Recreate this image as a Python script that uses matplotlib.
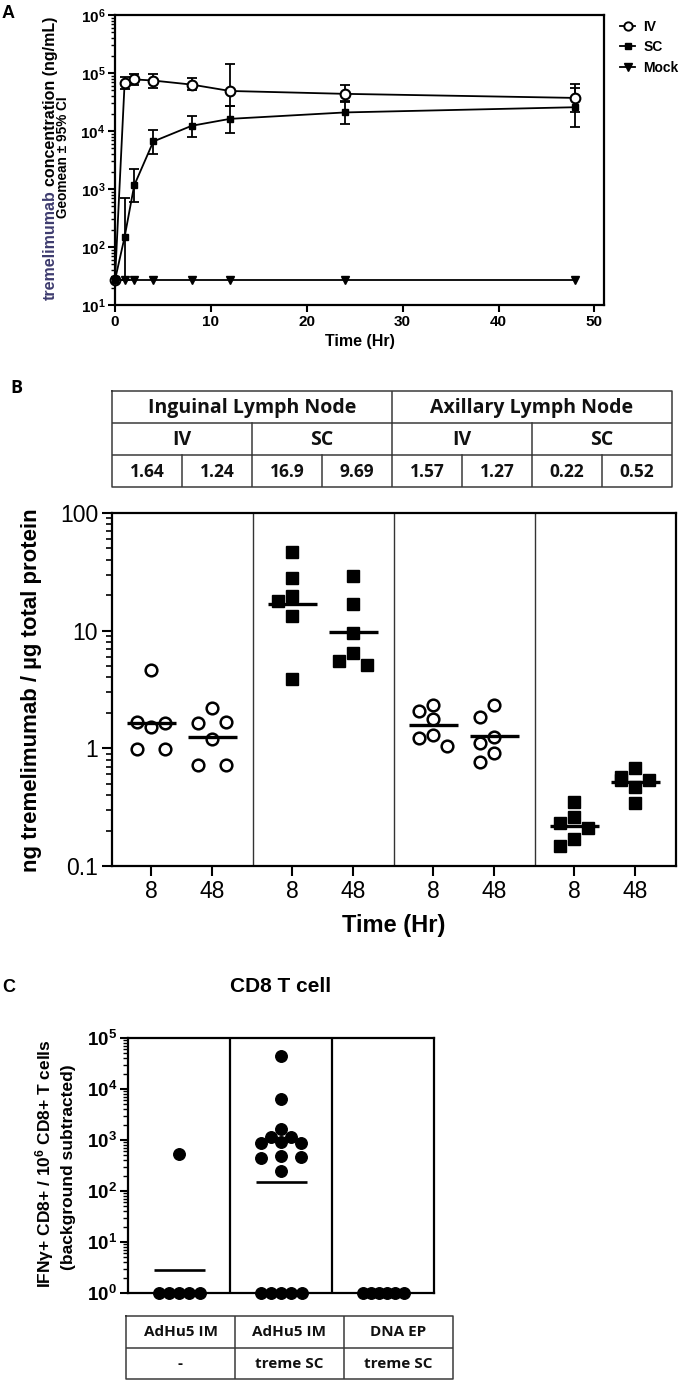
import numpy as np
import matplotlib
matplotlib.use('Agg')
import matplotlib.pyplot as plt
from matplotlib.lines import Line2D
from matplotlib.ticker import LogLocator, FixedLocator, NullFormatter, FuncFormatter

plt.rcParams['font.family'] = ['Liberation Sans', 'DejaVu Sans']
plt.rcParams['mathtext.fontset'] = 'custom'
plt.rcParams['mathtext.rm'] = 'Liberation Sans:bold'
plt.rcParams['mathtext.bf'] = 'Liberation Sans:bold'
plt.rcParams['mathtext.it'] = 'Liberation Sans:bold:italic'
plt.rcParams['mathtext.sf'] = 'Liberation Sans:bold'
plt.rcParams['mathtext.default'] = 'rm'

# ---------------- data ----------------
# Panel A : serum PK (geomean +/- 95% CI, ng/mL)
time_hr = [0, 1, 2, 4, 8, 12, 24, 48]
iv_geomean = [27, 66000, 77600, 74100, 63100, 49000, 43700, 37200]
iv_ci_low = [27, 52500, 63100, 56200, 50100, 27500, 33100, 21400]
iv_ci_high = [27, 85100, 95500, 95500, 81300, 141000, 61700, 64600]
sc_geomean = [27, 148, 1150, 6600, 12300, 16200, 20900, 25700]
sc_ci_low = [27, 27, 603, 3980, 7940, 9330, 13200, 11700]
sc_ci_high = [27, 708, 2190, 10500, 18200, 26900, 31600, 55000]
mock_geomean = [27, 27, 27, 27, 27, 27, 27, 27]

# Panel B : lymph node tremelimumab (ng / ug total protein)
ing_iv_8h = [4.64, 1.51, 1.69, 1.63, 0.98, 0.98]
ing_iv_48h = [2.19, 1.63, 1.69, 1.19, 0.72, 0.72]
ing_sc_8h = [46.9, 27.9, 17.7, 19.7, 13.2, 3.9]
ing_sc_48h = [29.2, 16.9, 9.5, 6.4, 5.5, 5.1]
ax_iv_8h = [2.34, 2.09, 1.78, 1.30, 1.22, 1.05]
ax_iv_48h = [2.34, 1.86, 1.26, 1.12, 0.91, 0.76]
ax_sc_8h = [0.352, 0.263, 0.231, 0.209, 0.169, 0.149]
ax_sc_48h = [0.678, 0.575, 0.539, 0.539, 0.473, 0.342]
b_geomean = [1.64, 1.24, 16.9, 9.69, 1.57, 1.27, 0.22, 0.52]
b_time_labels = ['8', '48', '8', '48', '8', '48', '8', '48']
b_nodes = ['Inguinal Lymph Node', 'Axillary Lymph Node']
b_routes = ['IV', 'SC', 'IV', 'SC']
b_values = [ing_iv_8h, ing_iv_48h, ing_sc_8h, ing_sc_48h,
            ax_iv_8h, ax_iv_48h, ax_sc_8h, ax_sc_48h]

# Panel C : IFNg+ CD8+ T cells per 10^6 CD8+ T cells
c_adhu5 = [520, 1, 1, 1, 1, 1]
c_adhu5_treme = [45000, 6270, 1640, 1160, 1160, 887, 926, 861,
                 437, 486, 457, 247, 1, 1, 1, 1, 1]
c_dna_treme = [1, 1, 1, 1, 1, 1]
c_vaccine = ['AdHu5 IM', 'AdHu5 IM', 'DNA EP']
c_treme = ['-', 'treme SC', 'treme SC']
c_values = [c_adhu5, c_adhu5_treme, c_dna_treme]

# ---------------- layout helpers ----------------
W, H = 685, 1380
fig = plt.figure(figsize=(W / 100, H / 100), dpi=100)


def rect(l, t, r, b):
    return [l / W, 1 - b / H, (r - l) / W, (b - t) / H]


def swarm_x(ax, xc, vals, step_px, tie_pref_px, max_half_px, min_dist_px, tie_px=2.5):
    vals = np.asarray(vals, float)
    n = len(vals)
    ypx = ax.transData.transform(np.column_stack([np.full(n, xc), vals]))[:, 1]
    order = sorted(range(n), key=lambda i: (-ypx[i], i))
    groups = []
    for i in order:
        if groups and abs(ypx[groups[-1][-1]] - ypx[i]) <= tie_px:
            groups[-1].append(i)
        else:
            groups.append([i])
    off = np.zeros(n)
    placed = []
    for g in groups:
        if len(g) > 1:
            g = sorted(g)
            sp = min(tie_pref_px, 2 * max_half_px / (len(g) - 1))
            for k, i in enumerate(g):
                off[i] = (k - (len(g) - 1) / 2) * sp
                placed.append(i)
        else:
            i = g[0]
            cands = [0.0]
            for m in range(1, 6):
                cands += [-m * step_px, m * step_px]
            for c in cands:
                if all(np.hypot(c - off[j], ypx[i] - ypx[j]) >= min_dist_px for j in placed):
                    off[i] = c
                    break
            placed.append(i)
    x0, x1 = ax.get_xlim()
    px_per_unit = ax.bbox.width / (x1 - x0)
    return xc + off / px_per_unit


# ================= Panel A =================
axA = fig.add_axes(rect(115, 15, 604, 305))
axA.set_yscale('log')
axA.set_xlim(0, 51)
axA.set_ylim(10, 1e6)

iv_err = [np.array(iv_geomean) - np.array(iv_ci_low), np.array(iv_ci_high) - np.array(iv_geomean)]
sc_err = [np.array(sc_geomean) - np.array(sc_ci_low), np.array(sc_ci_high) - np.array(sc_geomean)]
axA.errorbar(time_hr, iv_geomean, yerr=iv_err, fmt='none', ecolor='black',
             elinewidth=1.3, capsize=3.5, capthick=1.3, zorder=2)
axA.errorbar(time_hr, sc_geomean, yerr=sc_err, fmt='none', ecolor='black',
             elinewidth=1.3, capsize=3.5, capthick=1.3, zorder=2)
axA.plot(time_hr, iv_geomean, '-o', color='black', lw=1.3, ms=7, mfc='white',
         mec='black', mew=1.5, zorder=3, clip_on=False)
axA.plot(time_hr, sc_geomean, '-s', color='black', lw=1.3, ms=5, zorder=4, clip_on=False)
axA.plot(time_hr, mock_geomean, '-v', color='black', lw=1.3, ms=6, zorder=4, clip_on=False)

axA.xaxis.set_major_locator(FixedLocator([0, 10, 20, 30, 40, 50]))
axA.yaxis.set_major_locator(LogLocator(base=10, numticks=10))
axA.yaxis.set_minor_locator(LogLocator(base=10, subs=np.arange(2, 10), numticks=20))
axA.yaxis.set_minor_formatter(NullFormatter())
axA.yaxis.set_major_formatter(FuncFormatter(
    lambda v, p: r'$\mathbf{10^{%d}}$' % int(round(np.log10(v)))))
axA.tick_params(axis='both', which='major', direction='out', length=5, width=1.5,
                labelsize=11, pad=2)
axA.tick_params(axis='y', which='minor', direction='out', length=3, width=1)
for lab in axA.get_xticklabels():
    lab.set_fontweight('bold')
for s in axA.spines.values():
    s.set_linewidth(1.6)
axA.set_xlabel('Time (Hr)', fontsize=11.5, fontweight='bold', labelpad=4)

# legend
handles = [Line2D([], [], color='black', lw=1.3, marker='o', ms=6, mfc='white', mew=1.4),
           Line2D([], [], color='black', lw=1.3, marker='s', ms=5),
           Line2D([], [], color='black', lw=1.3, marker='v', ms=6)]
fig.legend(handles, ['IV', 'SC', 'Mock'], loc='upper left',
           bbox_to_anchor=(620 / W, 1 - 20 / H), frameon=False,
           handlelength=1.1, handletextpad=0.6, labelspacing=0.45,
           prop={'weight': 'bold', 'size': 10}, borderaxespad=0, borderpad=0)

# two-coloured y label
fig.canvas.draw()
rend = fig.canvas.get_renderer()
kw = dict(rotation=90, rotation_mode='anchor', ha='left', va='baseline',
          fontsize=11.5, fontweight='bold')
t1 = fig.text(55 / W, 0, 'tremelimumab', color='#3d3b6e', **kw)
t2 = fig.text(55 / W, 0, 'concentration (ng/mL)', color='black', **kw)
h1 = t1.get_window_extent(rend).height
h2 = t2.get_window_extent(rend).height
gap = 4
y0 = (H - 158) - (h1 + gap + h2) / 2
t1.set_y(y0 / H)
t2.set_y((y0 + h1 + gap) / H)
fig.text(67 / W, 1 - 157 / H, 'Geomean ± 95% CI', rotation=90, rotation_mode='anchor',
         ha='center', va='baseline', fontsize=9.8, fontweight='bold')

fig.text(2 / W, 1 - 13 / H, 'A', fontsize=13, fontweight='bold', va='center', ha='left')

# ================= Panel B =================
axB = fig.add_axes(rect(112, 513, 676, 866))
axB.set_yscale('log')
axB.set_xlim(0, 4)
axB.set_ylim(0.1, 100)
b_pos = [0.28, 0.71, 1.28, 1.71, 2.28, 2.71, 3.28, 3.71]
b_marker = ['o', 'o', 's', 's', 'o', 'o', 's', 's']
for xdiv in [1, 2, 3]:
    axB.axvline(xdiv, color='#333333', lw=1.0, zorder=1)
pxu = axB.bbox.width / 4.0
for k, vals in enumerate(b_values):
    xs = swarm_x(axB, b_pos[k], vals, 14, 28, 14, 12)
    if b_marker[k] == 'o':
        axB.plot(xs, vals, 'o', ls='none', ms=8.4, mfc='white', mec='black', mew=1.8, zorder=3)
    else:
        axB.plot(xs, vals, 's', ls='none', ms=9.3, color='black', zorder=3)
    half = 24.5 / pxu
    axB.hlines(b_geomean[k], b_pos[k] - half, b_pos[k] + half, color='black', lw=2.4, zorder=4)

axB.set_xticks(b_pos)
axB.set_xticklabels(b_time_labels)
axB.yaxis.set_major_locator(FixedLocator([0.1, 1, 10, 100]))
axB.yaxis.set_major_formatter(FuncFormatter(lambda v, p: ('%g' % v)))
axB.yaxis.set_minor_locator(LogLocator(base=10, subs=np.arange(2, 10), numticks=20))
axB.yaxis.set_minor_formatter(NullFormatter())
axB.tick_params(axis='both', which='major', direction='out', length=7, width=1.5,
                labelsize=16.5, pad=3)
axB.tick_params(axis='y', which='minor', direction='out', length=4, width=1.2)
for s in axB.spines.values():
    s.set_linewidth(1.6)
axB.set_xlabel('Time (Hr)', fontsize=17, fontweight='bold', labelpad=8)
fig.text(32 / W, 1 - 690 / H, 'ng tremelimumab / µg total protein', rotation=90,
         ha='center', va='center', fontsize=16, fontweight='bold')
fig.text(10 / W, 1 - 388 / H, 'B', fontsize=13, fontweight='bold', va='center', ha='left',
         family='Open Sans')

# table B
tB = fig.add_axes(rect(112, 391, 672, 487))
tB.set_xlim(0, 8)
tB.set_ylim(3, 0)
tB.axis('off')
lc = '#3a3a3a'
tlw = 1.1
tB.plot([0, 8, 8, 0, 0], [0, 0, 3, 3, 0], color=lc, lw=tlw, clip_on=False)
for yy in [1, 2]:
    tB.plot([0, 8], [yy, yy], color=lc, lw=tlw)
tB.plot([4, 4], [0, 1], color=lc, lw=tlw)
for xx in [2, 4, 6]:
    tB.plot([xx, xx], [1, 2], color=lc, lw=tlw)
for xx in range(1, 8):
    tB.plot([xx, xx], [2, 3], color=lc, lw=tlw)
tf = dict(family='Open Sans', fontweight='bold', ha='center', va='center', color='#111111')
for i, name in enumerate(b_nodes):
    tB.text(4 * i + 2, 0.52, name, fontsize=14, **tf)
for i, name in enumerate(b_routes):
    tB.text(2 * i + 1, 1.52, name, fontsize=14, **tf)
for i, v in enumerate(b_geomean):
    tB.text(i + 0.5, 2.52, '%g' % v, fontsize=12.5, **tf)

# ================= Panel C =================
axC = fig.add_axes(rect(128, 1038, 434, 1293))
axC.set_yscale('log')
axC.set_xlim(0, 3)
axC.set_ylim(1, 1e5)
for xdiv in [1, 2]:
    axC.axvline(xdiv, color='black', lw=1.6, zorder=1)
pxc = axC.bbox.width / 3.0
for k, vals in enumerate(c_values):
    xc = k + 0.5
    xs = swarm_x(axC, xc, vals, 10, 20, 20.5, 11)
    axC.plot(xs, vals, 'o', ls='none', ms=8.3, color='black', zorder=3, clip_on=False)
    gm = 10 ** np.mean(np.log10(vals))
    half = 25.5 / pxc
    axC.hlines(gm, xc - half, xc + half, color='black', lw=1.9, zorder=4)
axC.set_xticks([])
axC.yaxis.set_major_locator(LogLocator(base=10, numticks=10))
axC.yaxis.set_minor_locator(LogLocator(base=10, subs=np.arange(2, 10), numticks=20))
axC.yaxis.set_minor_formatter(NullFormatter())
axC.yaxis.set_major_formatter(FuncFormatter(
    lambda v, p: r'$\mathbf{10^{%d}}$' % int(round(np.log10(v)))))
axC.tick_params(axis='y', which='major', direction='out', length=6, width=1.5,
                labelsize=13.5, pad=2)
axC.tick_params(axis='y', which='minor', direction='out', length=3.5, width=1)
for s in axC.spines.values():
    s.set_linewidth(1.6)
fig.text(281 / W, 1 - 986 / H, 'CD8 T cell', ha='center', va='center', fontsize=15,
         fontweight='bold')
fig.text(45 / W, 1 - 1164 / H, r'IFNγ+ CD8+ / 10$^{6}$ CD8+ T cells', rotation=90,
         ha='center', va='center', fontsize=12.5, fontweight='bold')
fig.text(68 / W, 1 - 1167 / H, '(background subtracted)', rotation=90,
         ha='center', va='center', fontsize=12.5, fontweight='bold')
fig.text(2 / W, 1 - 988 / H, 'C', fontsize=13, fontweight='bold', va='center', ha='left')

# table C
tC = fig.add_axes(rect(126, 1316, 453, 1379))
tC.set_xlim(0, 3)
tC.set_ylim(2, 0)
tC.axis('off')
tC.plot([0, 3, 3, 0, 0], [0, 0, 2, 2, 0], color=lc, lw=tlw, clip_on=False)
tC.plot([0, 3], [1, 1], color=lc, lw=tlw)
for xx in [1, 2]:
    tC.plot([xx, xx], [0, 2], color=lc, lw=tlw)
for i in range(3):
    tC.text(i + 0.5, 0.52, c_vaccine[i], fontsize=11, **tf)
    tC.text(i + 0.5, 1.52, c_treme[i], fontsize=11, **tf)

fig.savefig('out.png', dpi=100)
